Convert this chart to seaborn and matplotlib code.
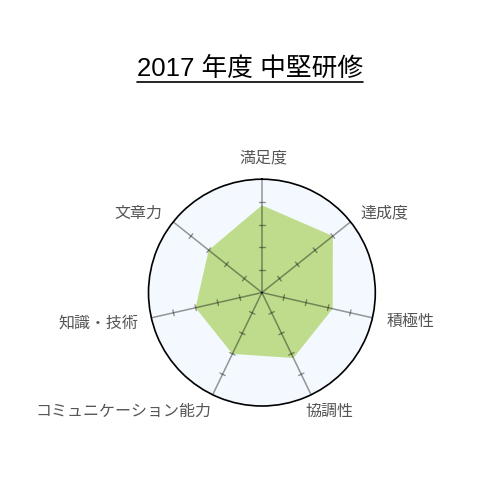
import numpy as np
import matplotlib
matplotlib.use('Agg')
import matplotlib.pyplot as plt
from matplotlib.lines import Line2D
import seaborn as sns

title = "2017 年度 中堅研修"
categories = ["満足度", "達成度", "積極性", "協調性", "コミュニケーション能力", "知識・技術", "文章力"]
scores = [3.85, 4.0, 3.2, 3.2, 3.0, 3.0, 3.0]
scale_max = 5
scale_ticks = [1, 2, 3, 4]

# label centres in pixels (from top-left of the 500x500 canvas)
label_pos = [(263, 158), (384, 213), (411, 321), (329, 411), (123, 411), (98, 323), (138, 213)]

sns.set_theme(style="white")
plt.rcParams['font.family'] = ['Noto Sans CJK JP', 'DejaVu Sans']

fig = plt.figure(figsize=(5, 5), dpi=100)
ax = fig.add_axes([0.297, 0.188, 0.4536, 0.4536], projection='polar')
ax.set_theta_zero_location('N')
ax.set_theta_direction(-1)
ax.set_facecolor('#f3f9ff')

n = len(categories)
angles = np.arange(n) * 2 * np.pi / n

ax.fill(np.append(angles, angles[0]), scores + scores[:1], color='#bfdc8c', lw=0, zorder=2)

for a in angles:
    ax.plot([a, a], [0, scale_max], color='black', alpha=0.4, lw=1.1, zorder=3)
    for t in scale_ticks:
        d = 0.13 / t
        ax.plot([a - d, a + d], [t, t], color='black', alpha=0.4, lw=1.0, zorder=3)

ax.set_ylim(0, scale_max)
ax.set_xticks([])
ax.set_yticks([])
ax.grid(False)
ax.spines['polar'].set_color('black')
ax.spines['polar'].set_linewidth(1.2)

for name, (px, py) in zip(categories, label_pos):
    fig.text(px / 500, 1 - py / 500, name, ha='center', va='center',
             fontsize=11.5, color='#555555')

t = fig.text(250 / 500, 1 - 69 / 500, title, ha='center', va='center',
             fontsize=18.5, color='black', family=['Liberation Sans', 'Noto Sans CJK JP'])
fig.canvas.draw()
bb = t.get_window_extent(renderer=fig.canvas.get_renderer())
uy = 1 - 81.5 / 500
fig.add_artist(Line2D([bb.x0 / 500, bb.x1 / 500], [uy, uy], color='black', lw=1.2))

fig.savefig('out.png', dpi=100)
